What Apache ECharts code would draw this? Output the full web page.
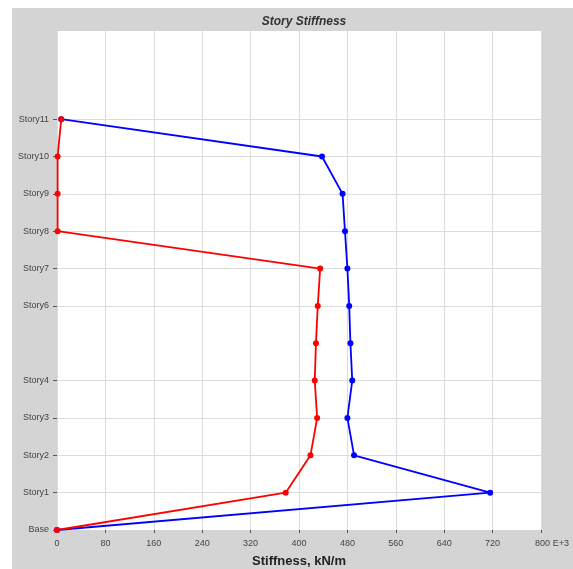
<!DOCTYPE html>
<html>
<head>
<meta charset="utf-8">
<style>
html,body{margin:0;padding:0;background:#fff;overflow:hidden;}
#chart{width:573px;height:569px;}
</style>
<script src="https://cdn.jsdelivr.net/npm/echarts@6/dist/echarts.min.js"></script>
</head>
<body>
<div id="chart"></div>
<script>
// Story names indexed by level (0 = Base)
const stories = ['Base','Story1','Story2','Story3','Story4','Story5','Story6','Story7','Story8','Story9','Story10','Story11'];
const labeledLevels = [0,1,2,3,4,6,7,8,9,10,11];
// Stiffness values (kN/m, E+3) per level, Base..Story11
const stiffnessBlue = [0, 716, 491, 480, 488, 485, 483, 480, 476, 472, 438, 7];
const stiffnessRed  = [0, 378, 419, 430, 426, 428, 431, 435, 1, 1, 1, 7];
const xTicks = [0, 80, 160, 240, 320, 400, 480, 560, 640, 720, 800];

const chart = echarts.init(document.getElementById('chart'), null, {renderer:'canvas'});
const toPts = arr => arr.map((v, i) => [v, i]);

const option = {
  backgroundColor: '#ffffff',
  animation: false,
  graphic: [{
    type: 'rect', z: -10, silent: true,
    shape: {x: 12, y: 8, width: 561, height: 561},
    style: {fill: '#d4d4d4'}
  }],
  title: {
    text: 'Story Stiffness',
    left: 299, top: 11, textAlign: 'center',
    textStyle: {fontFamily: 'Liberation Sans', fontSize: 12, fontWeight: 'bold', fontStyle: 'italic', color: '#333'}
  },
  grid: {left: 57, top: 31, right: 32, bottom: 39, outerBoundsMode: 'none', containLabel: false,
         show: true, backgroundColor: '#ffffff', borderWidth: 0},
  xAxis: {
    type: 'value', min: xTicks[0], max: xTicks[xTicks.length - 1], interval: 80,
    name: 'Stiffness, kN/m', nameLocation: 'middle', nameGap: 25,
    nameTextStyle: {fontFamily: 'Liberation Sans', fontSize: 13, fontWeight: 'bold', color: '#222'},
    axisLine: {show: false},
    axisTick: {show: true, length: 3, lineStyle: {color: '#555'}},
    axisLabel: {
      fontFamily: 'Liberation Sans', fontSize: 9, color: '#444', margin: 9,
      formatter: v => v === 800 ? '{p|}800 E+3' : String(v),
      rich: {p: {width: 22}}
    },
    splitLine: {show: true, lineStyle: {color: '#dcdcdc', width: 1}}
  },
  yAxis: {
    type: 'value', min: 0, max: 13.36, interval: 1,
    axisLine: {show: false},
    axisTick: {show: true, length: 4, customValues: labeledLevels, lineStyle: {color: '#555'}},
    axisLabel: {
      fontFamily: 'Liberation Sans', fontSize: 9, color: '#444', margin: 8,
      customValues: labeledLevels,
      formatter: v => stories[v] || ''
    },
    splitLine: {show: true, showMinLine: false, lineStyle: {color: '#dcdcdc', width: 1}}
  },
  series: [
    {type: 'line', data: toPts(stiffnessBlue), symbol: 'circle', symbolSize: 6,
     itemStyle: {color: '#0000ff'}, lineStyle: {color: '#0000ff', width: 1.8}},
    {type: 'line', data: toPts(stiffnessRed), symbol: 'circle', symbolSize: 6,
     itemStyle: {color: '#ff0000'}, lineStyle: {color: '#ff0000', width: 1.8}}
  ]
};
chart.setOption(option);
</script>
</body>
</html>
